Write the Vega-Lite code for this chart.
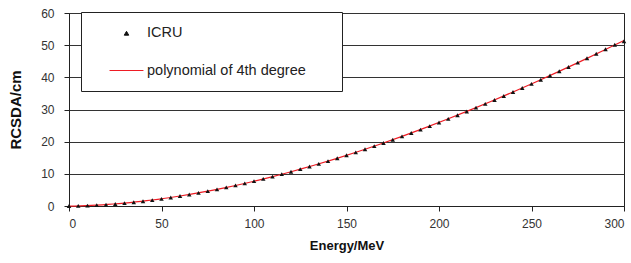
{
  "$schema": "https://vega.github.io/schema/vega-lite/v6.json",
  "autosize": "none",
  "width": 555,
  "height": 193,
  "padding": {"left": 69, "top": 13, "right": 7, "bottom": 57},
  "background": "white",
  "config": {
    "font": "Liberation Sans",
    "view": {"stroke": "#222", "strokeWidth": 1},
    "axis": {"labelFont": "Liberation Sans", "labelFontSize": 12, "labelColor": "#333", "domainColor": "#222", "tickColor": "#222", "tickSize": 5, "titleFont": "Liberation Sans", "titleFontSize": 13, "titleFontWeight": "bold", "titleColor": "#111", "labelOverlap": false}
  },
  "data": {"values": [
    {"E": 0, "R": 0}, {"E": 5, "R": 0.036}, {"E": 10, "R": 0.123}, {"E": 15, "R": 0.254}, {"E": 20, "R": 0.426},
    {"E": 25, "R": 0.637}, {"E": 30, "R": 0.885}, {"E": 35, "R": 1.17}, {"E": 40, "R": 1.489}, {"E": 45, "R": 1.842},
    {"E": 50, "R": 2.227}, {"E": 55, "R": 2.644}, {"E": 60, "R": 3.093}, {"E": 65, "R": 3.572}, {"E": 70, "R": 4.08},
    {"E": 75, "R": 4.618}, {"E": 80, "R": 5.184}, {"E": 85, "R": 5.777}, {"E": 90, "R": 6.398}, {"E": 95, "R": 7.045},
    {"E": 100, "R": 7.718}, {"E": 105, "R": 8.417}, {"E": 110, "R": 9.141}, {"E": 115, "R": 9.89}, {"E": 120, "R": 10.66},
    {"E": 125, "R": 11.45}, {"E": 130, "R": 12.27}, {"E": 135, "R": 13.11}, {"E": 140, "R": 13.97}, {"E": 145, "R": 14.86},
    {"E": 150, "R": 15.76}, {"E": 155, "R": 16.69}, {"E": 160, "R": 17.64}, {"E": 165, "R": 18.61}, {"E": 170, "R": 19.6},
    {"E": 175, "R": 20.61}, {"E": 180, "R": 21.64}, {"E": 185, "R": 22.69}, {"E": 190, "R": 23.76}, {"E": 195, "R": 24.85},
    {"E": 200, "R": 25.96}, {"E": 205, "R": 27.09}, {"E": 210, "R": 28.23}, {"E": 215, "R": 29.39}, {"E": 220, "R": 30.57},
    {"E": 225, "R": 31.76}, {"E": 230, "R": 32.97}, {"E": 235, "R": 34.2}, {"E": 240, "R": 35.44}, {"E": 245, "R": 36.7},
    {"E": 250, "R": 37.97}, {"E": 255, "R": 39.26}, {"E": 260, "R": 40.57}, {"E": 265, "R": 41.89}, {"E": 270, "R": 43.23},
    {"E": 275, "R": 44.58}, {"E": 280, "R": 45.95}, {"E": 285, "R": 47.33}, {"E": 290, "R": 48.73}, {"E": 295, "R": 50.14},
    {"E": 300, "R": 51.2}
  ]},
  "encoding": {
    "x": {"field": "E", "type": "quantitative", "scale": {"domain": [0, 300], "nice": false}, "axis": {"title": "Energy/MeV", "values": [0, 50, 100, 150, 200, 250, 300], "grid": false, "labelPadding": 7, "titlePadding": 10}},
    "y": {"field": "R", "type": "quantitative", "scale": {"domain": [0, 60], "nice": false}, "axis": {"title": "RCSDA/cm", "values": [0, 10, 20, 30, 40, 50, 60], "grid": true, "gridColor": "#333", "gridOpacity": 1, "labelPadding": 10, "titleFontSize": 15, "titlePadding": 17}}
  },
  "layer": [
    {
      "transform": [{"regression": "R", "on": "E", "method": "poly", "order": 4, "extent": [0, 300]}],
      "mark": {"type": "line", "strokeWidth": 1.2},
      "encoding": {
        "color": {"datum": "polynomial of 4th degree", "type": "nominal"}
      }
    },
    {
      "mark": {"type": "point", "filled": true, "opacity": 1},
      "encoding": {
        "color": {"datum": "ICRU", "type": "nominal", "scale": {"domain": ["ICRU", "polynomial of 4th degree"], "range": ["#111111", "#ee1c24"]},
          "legend": {"title": null, "orient": "none", "legendX": 12, "legendY": -1, "strokeColor": "#222", "fillColor": "white", "padding": 14, "symbolOffset": 14, "labelFontSize": 14.5, "labelLimit": 400, "labelColor": "#222", "rowPadding": 13, "symbolStrokeWidth": 1, "labelOffset": 3,
            "labelExpr": "datum.label + '\u2800\u2800'",
            "encode": {"symbols": {"update": {"stroke": {"scale": "color", "field": "value"}, "strokeOpacity": {"value": 1}, "strokeWidth": {"value": 1.3}}}}}},
        "shape": {"datum": "ICRU", "type": "nominal", "scale": {"domain": ["ICRU", "polynomial of 4th degree"], "range": ["triangle-up", "stroke"]}},
        "size": {"datum": "ICRU", "type": "nominal", "scale": {"domain": ["ICRU", "polynomial of 4th degree"], "range": [20, 1150]}}
      }
    }
  ]
}
